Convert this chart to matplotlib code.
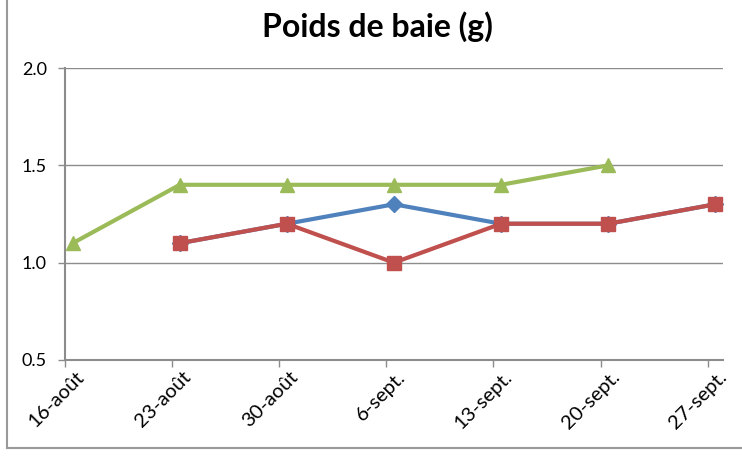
import matplotlib.pyplot as plt
from matplotlib.lines import Line2D
from matplotlib.transforms import ScaledTranslation

plt.rcParams['font.family'] = ['Lato', 'DejaVu Sans']

# days since 16-août (date axis, one week between ticks)
tick_days = [0, 7, 14, 21, 28, 35, 42]
tick_labels = ['16-août', '23-août', '30-août', '6-sept.', '13-sept.', '20-sept.', '27-sept.']

blue_days = [7, 14, 21, 28, 35, 42]
blue_vals = [1.1, 1.2, 1.3, 1.2, 1.2, 1.3]

red_days = [7, 14, 21, 28, 35, 42]
red_vals = [1.1, 1.2, 1.0, 1.2, 1.2, 1.3]

green_days = [0, 7, 14, 21, 28, 35]
green_vals = [1.1, 1.4, 1.4, 1.4, 1.4, 1.5]

fig = plt.figure(figsize=(7.42, 4.65), dpi=100)
ax = fig.add_axes([65 / 742, 1 - 360 / 465, (723 - 65) / 742, (360 - 68) / 465])

# Excel date axis: points sit in the middle of each day slot
off = 0.5
ax.plot([d + off for d in blue_days], blue_vals, color='#4F81BD', lw=3,
        marker='D', ms=8, zorder=3, clip_on=False)
ax.plot([d + off for d in red_days], red_vals, color='#C0504D', lw=3,
        marker='s', ms=10.5, zorder=4, clip_on=False)
ax.plot([d + off for d in green_days], green_vals, color='#9BBB59', lw=3,
        marker='^', ms=10.5, zorder=5, clip_on=False)

ax.set_xlim(0, 43)
ax.set_ylim(0.5, 2.0)
ax.set_yticks([0.5, 1.0, 1.5, 2.0])
ax.set_yticklabels(['0.5', '1.0', '1.5', '2.0'])
ax.set_xticks(tick_days)
ax.set_xticklabels(tick_labels, rotation=45, ha='right', va='top',
                   rotation_mode='anchor', fontsize=14.5)

ax.grid(axis='y', color='#8c8c8c', lw=1)
ax.set_axisbelow(True)
for s in ['top', 'right']:
    ax.spines[s].set_visible(False)
for s in ['left', 'bottom']:
    ax.spines[s].set_color('#8c8c8c')
    ax.spines[s].set_linewidth(1.5)
ax.tick_params(axis='both', colors='#8c8c8c', labelcolor='black',
               length=5, width=1)
ax.tick_params(axis='y', pad=8, labelsize=13)
ax.tick_params(axis='x', pad=1)

# shift rotated labels so their end sits right of the tick, like Excel
shift = ScaledTranslation(10 / 100, 0, fig.dpi_scale_trans)
for lbl in ax.get_xticklabels():
    lbl.set_transform(lbl.get_transform() + shift)

fig.text(0.509, 1 - 27 / 465, 'Poids de baie (g)', ha='center', va='center',
         fontsize=23, fontweight='bold')

# outer chart frame (left and bottom edges visible)
fig.add_artist(Line2D([7 / 742, 7 / 742], [1 - 448 / 465, 1.0],
                      transform=fig.transFigure, color='#999999', lw=1.5))
fig.add_artist(Line2D([7 / 742, 1.0], [1 - 448 / 465, 1 - 448 / 465],
                      transform=fig.transFigure, color='#999999', lw=1.5))

fig.savefig('out.png', dpi=100)
